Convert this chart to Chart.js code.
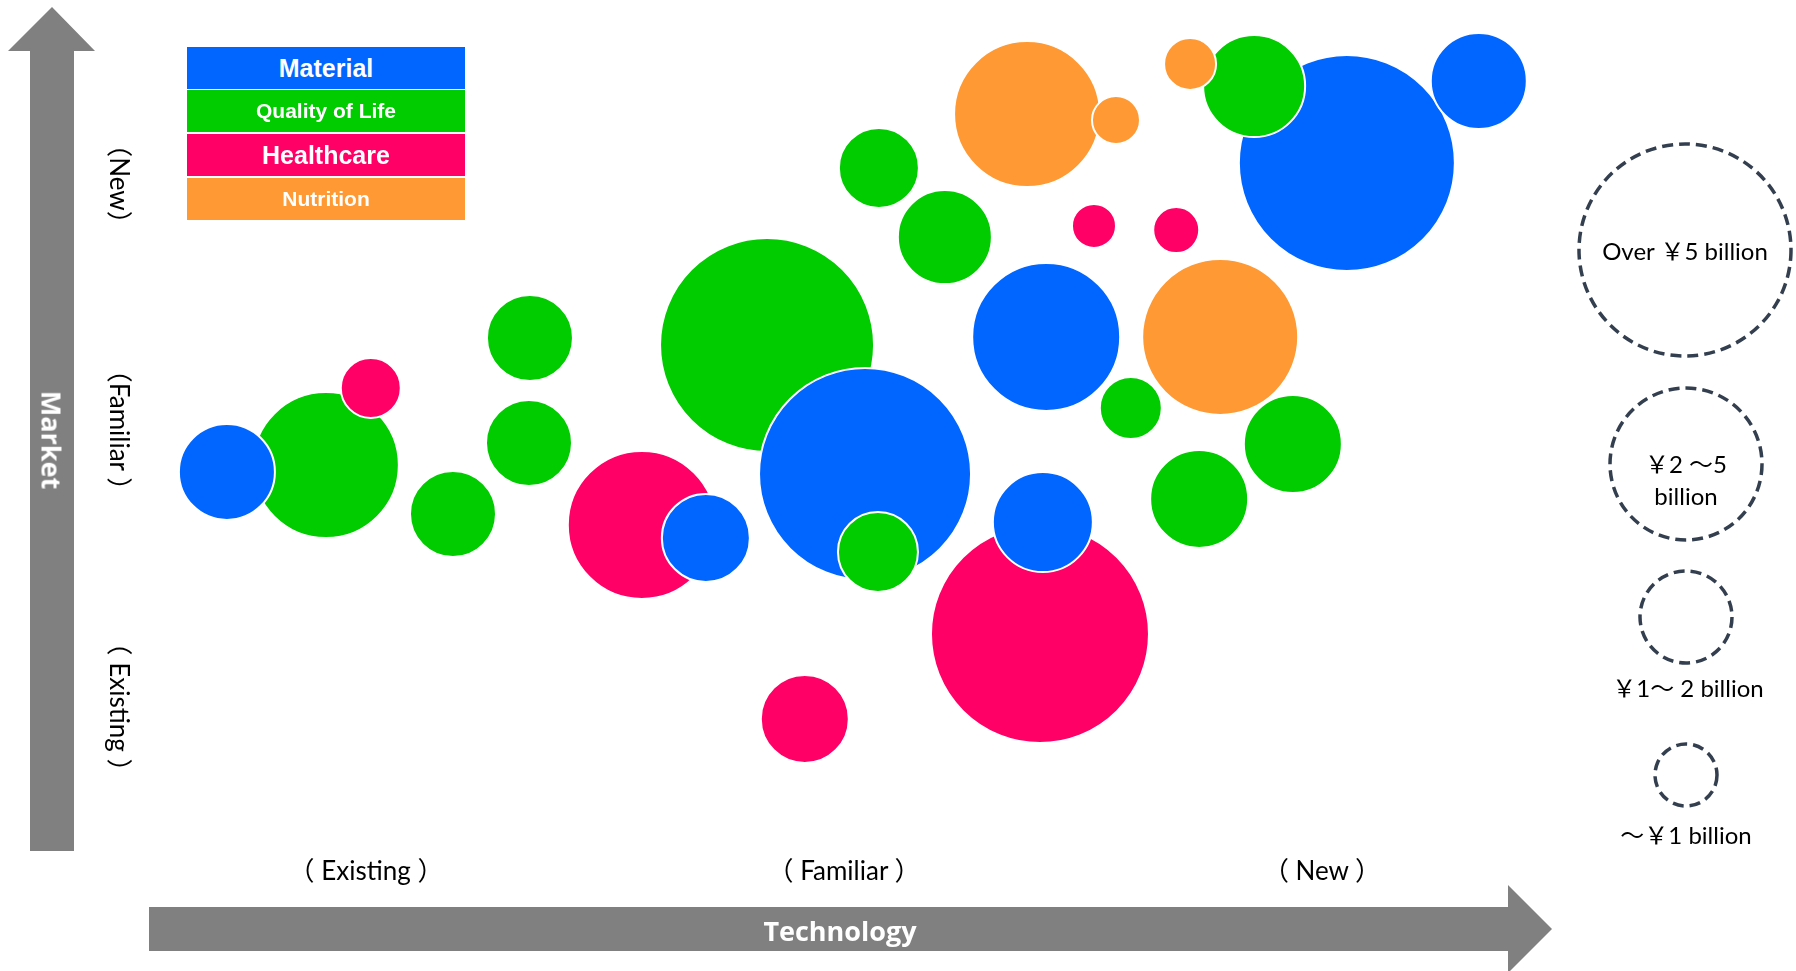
<!DOCTYPE html>
<html><head><meta charset="utf-8">
<script src="https://cdn.jsdelivr.net/npm/chart.js@4"></script>
<style>
html,body{margin:0;padding:0;background:#fff;}
#wrap{position:relative;width:1796px;height:971px;overflow:hidden;background:#fff;}
#c{position:absolute;left:0;top:0;}
svg{position:absolute;left:0;top:0;}
.lbl{position:absolute;font-family:Lato,"Noto Sans CJK JP",sans-serif;color:#000;white-space:pre;transform:translate(-50%,-50%);line-height:1;}
.axis{position:absolute;font-family:"Open Sans",sans-serif;font-weight:700;color:#fff;white-space:nowrap;transform:translate(-50%,-50%);line-height:1;}
.lbl.rot,.axis.rot{transform:translate(-50%,-50%) rotate(90deg);}
.leg{position:absolute;left:187px;width:278px;height:42px;color:#fff;font-family:"Liberation Sans",Arial,sans-serif;font-weight:bold;text-align:center;display:flex;align-items:center;justify-content:center;}
</style></head>
<body><div id="wrap">
<svg width="1796" height="971">
 <polygon fill="#808080" points="52,7 95,51 74,51 74,851 30,851 30,51 8,51"/>
 <polygon fill="#808080" points="149,907 1508,907 1508,885 1552,929 1508,973 1508,951 149,951"/>
 <g fill="none" stroke="#333F4F" stroke-width="3.5" stroke-dasharray="11 6">
  <circle cx="1685" cy="250" r="106"/>
  <circle cx="1686" cy="464" r="76"/>
  <circle cx="1686" cy="617" r="46"/>
  <circle cx="1686" cy="775" r="31"/>
 </g>
</svg>
<canvas id="c" width="1796" height="971"></canvas>
<div id="overlay"></div>
</div>
<script>
// Categories and colours
const categories = ['Material', 'Quality of Life', 'Healthcare', 'Nutrition'];
const categoryColors = ['#0066FF', '#00CC00', '#FF0066', '#FF9933'];

// Technology position (x, 0-3), market position (y, 0-3), bubble size (r)
const materialX = [0.209, 1.211, 1.544, 1.923, 1.916, 2.552, 2.828];
const materialY = [1.262, 1.008, 1.254, 1.781, 1.069, 2.450, 2.765];
const materialR = [48, 44, 106, 74, 50, 108, 48];

const qolX = [0.416, 0.843, 0.841, 0.682, 1.339, 1.571, 1.573, 1.711, 2.100, 2.243, 2.439, 2.358];
const qolY = [1.288, 1.777, 1.373, 1.100, 1.750, 0.954, 2.431, 2.165, 1.508, 1.158, 1.369, 2.746];
const qolR = [73, 43, 43, 43, 107, 40, 40, 47, 31, 49, 49, 51];

const healthX = [0.510, 1.077, 1.418, 1.910, 2.023, 2.195];
const healthY = [1.585, 1.058, 0.312, 0.638, 2.208, 2.192];
const healthR = [30, 74, 44, 109, 22, 23];

const nutritionX = [1.883, 2.069, 2.224, 2.287];
const nutritionY = [2.638, 2.615, 2.831, 1.781];
const nutritionR = [73, 24, 26, 78];

// Tick labels
const technologyTicks = ['（ Existing ）', '（ Familiar ）', '（ New ）'];
const marketTicks = ['（ Existing ）', '（Familiar ）', '（New）'];
const sizeLegendLabels = ['Over ￥5 billion', '￥2 ～5|billion', '￥1～ 2 billion', '～￥1 billion'];

const series = [
  {x: materialX, y: materialY, r: materialR},
  {x: qolX, y: qolY, r: qolR},
  {x: healthX, y: healthY, r: healthR},
  {x: nutritionX, y: nutritionY, r: nutritionR}
];

const points = [];
series.forEach((s, ci) => s.x.forEach((x, i) => points.push({x: x, y: s.y[i], r: s.r[i], c: ci})));
// larger bubbles drawn first (behind)
points.sort((a, b) => b.r - a.r);

const chart = new Chart(document.getElementById('c'), {
  type: 'bubble',
  data: {datasets: [{
    data: points,
    backgroundColor: points.map(p => categoryColors[p.c]),
    borderColor: '#ffffff',
    borderWidth: 2,
    hoverRadius: 0,
    clip: false
  }]},
  options: {
    responsive: false,
    animation: false,
    events: [],
    layout: {autoPadding: false, padding: {left: 127, right: 235, top: 20, bottom: 171}},
    scales: {
      x: {type: 'linear', min: 0, max: 3, display: false},
      y: {type: 'linear', min: 0, max: 3, display: false}
    },
    plugins: {legend: {display: false}, tooltip: {enabled: false}}
  }
});

const ov = document.getElementById('overlay');
function add(cls, text, x, y, size) {
  const d = document.createElement('div');
  d.className = cls;
  d.textContent = text;
  d.style.left = x + 'px';
  d.style.top = y + 'px';
  d.style.fontSize = size + 'px';
  ov.appendChild(d);
  return d;
}
// x tick labels from scale
const xs = chart.scales.x;
technologyTicks.forEach((t, i) => add('lbl', t, xs.getPixelForValue(i + 0.5), 870, 26));
// y tick labels (rotated)
const marketPos = [707, 430, 184];
marketTicks.forEach((t, i) => add('lbl rot', t, 120, marketPos[i], 26));
// axis titles
add('axis', 'Technology', 840, 930, 27);
add('axis rot', 'Market', 52, 440, 27);
// size legend labels
add('lbl', sizeLegendLabels[0], 1685, 251, 24);
add('lbl', sizeLegendLabels[1].split('|')[0], 1686, 464, 24);
add('lbl', sizeLegendLabels[1].split('|')[1], 1686, 496, 24);
add('lbl', sizeLegendLabels[2], 1688, 688, 24);
add('lbl', sizeLegendLabels[3], 1686, 835, 24);
// category legend boxes
const legTops = [47, 90, 134, 178];
const legSizes = [25, 21, 25, 21];
categories.forEach((c, i) => {
  const d = document.createElement('div');
  d.className = 'leg';
  d.textContent = c;
  d.style.top = legTops[i] + 'px';
  d.style.background = categoryColors[i];
  d.style.fontSize = legSizes[i] + 'px';
  ov.appendChild(d);
});
</script>
</body></html>
